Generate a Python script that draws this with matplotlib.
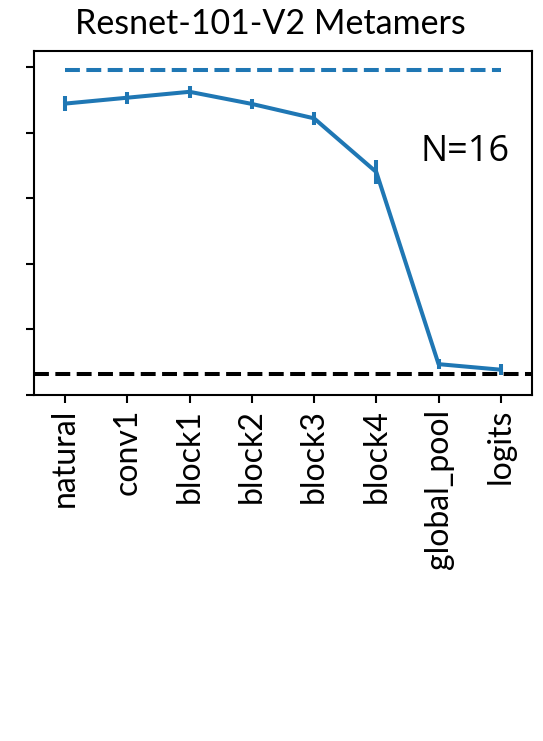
import numpy as np
import matplotlib
matplotlib.use("Agg")
import matplotlib.pyplot as plt

plt.rcParams["font.family"] = ["Lato", "DejaVu Sans"]
plt.rcParams["axes.linewidth"] = 1.5
plt.rcParams["xtick.major.width"] = 1.5
plt.rcParams["xtick.major.size"] = 6
plt.rcParams["ytick.major.width"] = 1.5
plt.rcParams["ytick.major.size"] = 6

layers = ["natural", "conv1", "block1", "block2", "block3", "block4", "global_pool", "logits"]
accuracy = [0.889, 0.907, 0.925, 0.888, 0.844, 0.680, 0.094, 0.077]
sem = [0.024, 0.018, 0.018, 0.016, 0.020, 0.036, 0.016, 0.017]
human_natural = 0.993
chance = 1.0 / 16
n_subjects = 16

fig = plt.figure(figsize=(5.43, 7.41), dpi=100)
ax = fig.add_axes([0.0626, 0.467, 0.917, 0.4644])

x = np.arange(len(layers))
ax.plot([x[0], x[-1]], [human_natural, human_natural], "--", color="#1f77b4", lw=2.9)
ax.axhline(chance, ls="--", color="black", lw=2.9)
ax.errorbar(x, accuracy, yerr=sem, color="#1f77b4", lw=2.9, elinewidth=2.9, capsize=0)

ax.set_xlim(-0.5, 7.5)
ax.set_ylim(0, 1.05)
ax.set_yticks(np.arange(0, 1.01, 0.2))
ax.set_yticklabels([])
ax.set_xticks(x)
ax.set_xticklabels(layers, rotation=90, fontsize=23)
ax.tick_params(axis="x", pad=4)

ax.text(0.956, 0.681, "N=%d" % n_subjects, transform=ax.transAxes, ha="right",
        va="baseline", fontsize=26, family=["Open Sans", "DejaVu Sans"])
ax.set_title("Resnet-101-V2 Metamers", fontsize=24.5, pad=12, x=0.475)

fig.savefig("out.png", dpi=100)
